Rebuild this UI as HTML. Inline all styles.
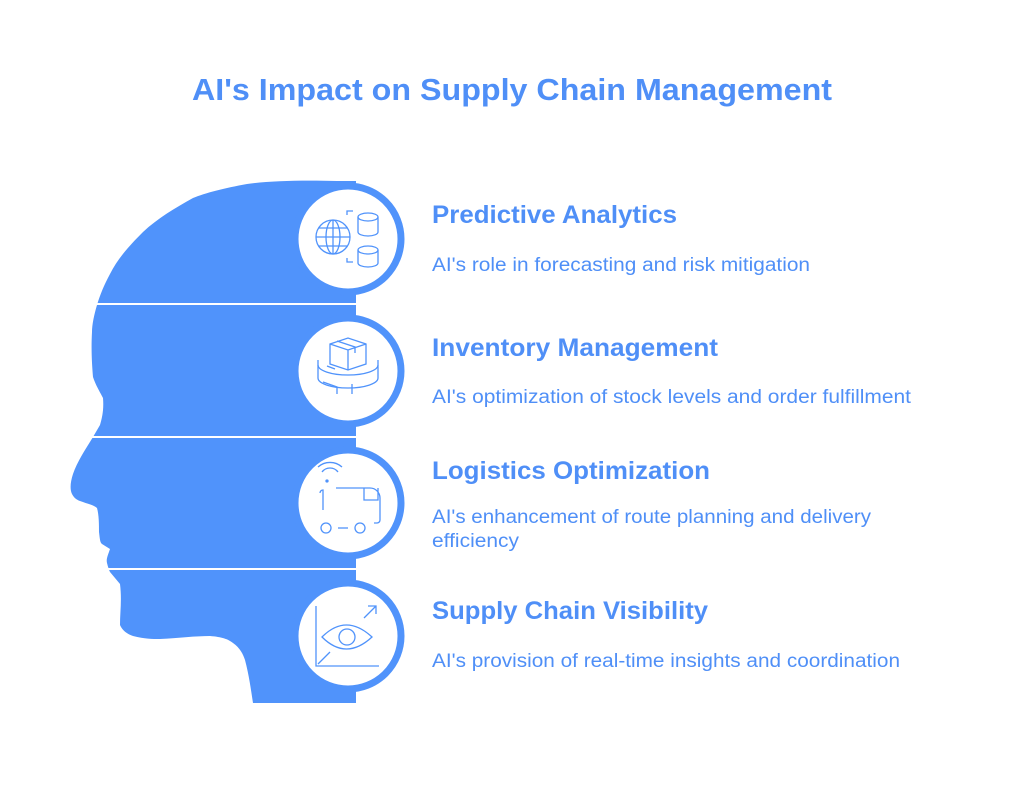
<!DOCTYPE html>
<html><head><meta charset="utf-8"><style>
html,body{margin:0;padding:0;background:#fff;}
svg{display:block;font-family:"Liberation Sans",sans-serif;}
</style></head><body>
<svg width="1024" height="809" viewBox="0 0 1024 809" xmlns="http://www.w3.org/2000/svg">
<text x="512" y="100" text-anchor="middle" font-size="31" font-weight="bold" fill="#4f8ff7" textLength="640" lengthAdjust="spacingAndGlyphs">AI's Impact on Supply Chain Management</text>

<path fill="#5093fb" d="M337,181 C300,180 268,181 247,184 C225,188 205,193 193,198 C175,208 158,218 143,232 C130,245 118,258 110,274 C104,285 100,295 97,305 C94,315 92,325 92,332 C91,350 92,365 93,377 C96,386 100,392 103,398 C104,410 102,418 100,425 L93,437 C85,450 77,462 73,474 C70,483 70,490 72,494 C74,498 77,500 80,501 C88,504 94,505 97,508 C99,515 99,525 99,532 C100,540 100,542 102,544 L110,549 C108,555 106,559 107,563 C108,567 109,570 110,572 L120,584 C122,600 120,612 120,625 C122,630 127,634 133,636 C145,639 152,639 160,639 C180,638 195,636 210,636 C222,637 228,639 233,643 C240,648 243,654 245,660 C249,675 251,690 253,703 L356,703 L356,181 Z"/>
<g stroke="#fff" stroke-width="2">
<line x1="90" y1="304" x2="356" y2="304"/>
<line x1="85" y1="437" x2="356" y2="437"/>
<line x1="100" y1="569" x2="356" y2="569"/>
</g>
<g fill="#fff" stroke="#5093fb" stroke-width="7">
<circle cx="348" cy="239" r="53"/>
<circle cx="348" cy="371" r="53"/>
<circle cx="348" cy="503" r="53"/>
<circle cx="348" cy="636" r="53"/>
</g>
<g fill="none" stroke="#5093fb" stroke-width="1.3">
<circle cx="333" cy="237" r="17"/>
<ellipse cx="333" cy="237" rx="7" ry="17"/>
<line x1="316" y1="237" x2="350" y2="237"/><line x1="333" y1="220" x2="333" y2="254"/>
<line x1="319" y1="228" x2="347" y2="228"/><line x1="319" y1="246" x2="347" y2="246"/>
<ellipse cx="368" cy="217" rx="10" ry="4"/><path d="M358,217 v15 a10,4 0 0 0 20,0 v-15"/>
<ellipse cx="368" cy="250" rx="10" ry="4"/><path d="M358,250 v13 a10,4 0 0 0 20,0 v-13"/>
<path d="M347,215 v-4 h6 M347,258 v4 h6"/>
<path d="M330,344 l18,-6 l18,6 v20 l-18,6 l-18,-6 z M330,344 l18,6 l18,-6 M348,350 v20 M337,341 l18,6 v6"/>
<path d="M318,360 v18 a30,10 0 0 0 60,0 v-18 M318,378 a30,10 0 0 0 60,0"/>
<path d="M318,365 a30,10 0 0 0 60,0 M327,366 l8,3"/>
<path d="M323,382 l14,5 v7 M352,384 v10"/>
<path d="M320,493 a3,3 0 0 1 3,-3 v20 M336,488 h28 v12 h14 v-12 M364,488 h6 a10,10 0 0 1 10,10 v22 a3,3 0 0 1 -3,3 h-3"/>
<circle cx="326" cy="528" r="5"/><circle cx="360" cy="528" r="5"/>
<line x1="338" y1="528" x2="348" y2="528"/>
<path d="M318,467 a18,18 0 0 1 24,0 M322,472 a10,10 0 0 1 16,0"/>
<circle cx="327" cy="481" r="1" fill="#5093fb"/>
<path d="M316,606 v60 h63"/>
<path d="M322,637 q24,-24 50,0 q-26,24 -50,0 z"/><circle cx="347" cy="637" r="8"/>
<path d="M364,618 l12,-12 M368,606 h8 v8 M318,664 l12,-12"/>
</g>

<g fill="#4f8ff7" lengthAdjust="spacingAndGlyphs">
<text x="432" y="223" font-size="25" font-weight="bold" textLength="245" lengthAdjust="spacingAndGlyphs">Predictive Analytics</text>
<text x="432" y="271" font-size="19" textLength="378" lengthAdjust="spacingAndGlyphs">AI's role in forecasting and risk mitigation</text>
<text x="432" y="356" font-size="25" font-weight="bold" textLength="286" lengthAdjust="spacingAndGlyphs">Inventory Management</text>
<text x="432" y="403" font-size="19" textLength="479" lengthAdjust="spacingAndGlyphs">AI's optimization of stock levels and order fulfillment</text>
<text x="432" y="479" font-size="25" font-weight="bold" textLength="278" lengthAdjust="spacingAndGlyphs">Logistics Optimization</text>
<text x="432" y="523" font-size="19" textLength="439" lengthAdjust="spacingAndGlyphs">AI's enhancement of route planning and delivery</text>
<text x="432" y="547" font-size="19" textLength="87" lengthAdjust="spacingAndGlyphs">efficiency</text>
<text x="432" y="619" font-size="25" font-weight="bold" textLength="276" lengthAdjust="spacingAndGlyphs">Supply Chain Visibility</text>
<text x="432" y="667" font-size="19" textLength="468" lengthAdjust="spacingAndGlyphs">AI's provision of real-time insights and coordination</text>
</g>
</svg>
</body></html>
